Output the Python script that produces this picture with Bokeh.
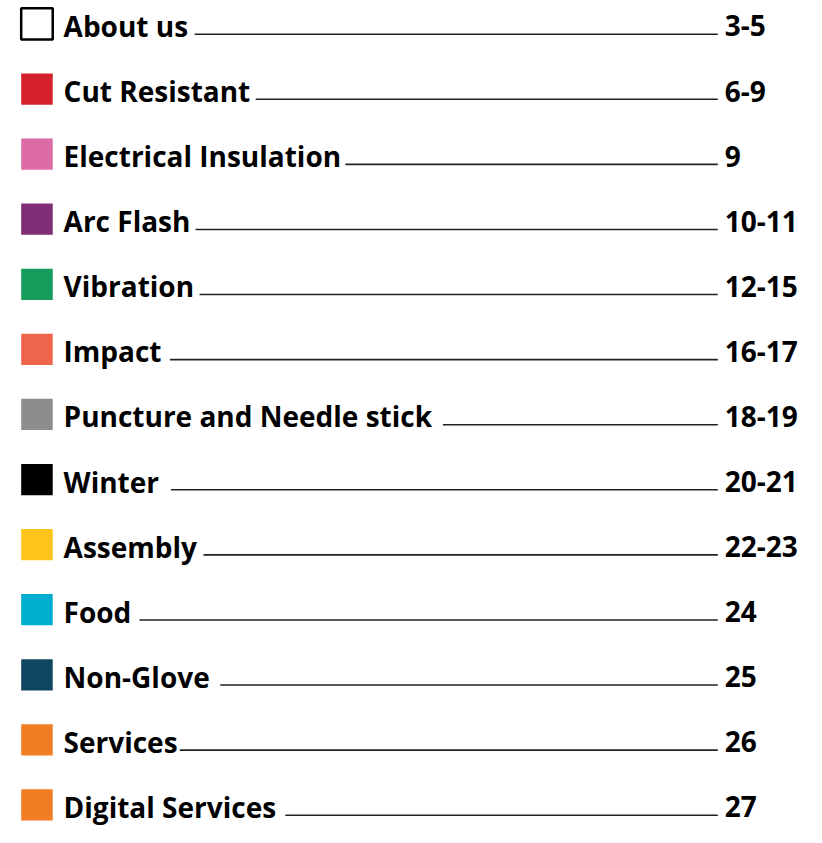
from bokeh.plotting import figure
from bokeh.models import Range1d, ColumnDataSource
from bokeh.core.properties import value
from bokeh.embed import file_html
from bokeh.resources import INLINE

labels = ["About us", "Cut Resistant", "Electrical Insulation", "Arc Flash", "Vibration",
          "Impact", "Puncture and Needle stick", "Winter", "Assembly", "Food",
          "Non-Glove", "Services", "Digital Services"]
pages = ["3-5", "6-9", "9", "10-11", "12-15", "16-17", "18-19", "20-21", "22-23",
         "24", "25", "26", "27"]
colors = ["#FFFFFF", "#D3202A", "#DC6BA6", "#7E2E74", "#159B5B", "#EF654B", "#8D8D8D",
          "#000000", "#FEC419", "#00AECF", "#104662", "#F17E24", "#F17E24"]
leader_start = [197, 259, 350, 198, 202, 172, 449, 173, 206, 141, 223, 182, 289]

rows = list(range(len(labels)))
ROW_PX = 66.58
CENTER0 = 24.0
REF_W, REF_H = 818, 846

W, H = 806, 827
p = figure(width=W, height=H, output_backend="svg", toolbar_location=None,
           x_range=Range1d(0, REF_W),
           y_range=Range1d((REF_H - CENTER0) / ROW_PX, (0 - CENTER0) / ROW_PX),
           min_border=0)
p.axis.visible = False
p.grid.visible = False
p.outline_line_color = None
p.background_fill_color = "white"
p.border_fill_color = "white"

src = ColumnDataSource(dict(
    y=rows, label=labels, page=pages, color=colors,
    x0=leader_start, x1=[728] * len(rows),
    ly=[r + 10.5 / ROW_PX for r in rows],
    lc=["black" if i == 0 else c for i, c in enumerate(colors)],
    lw=[2.5 if i == 0 else 0 for i in rows],
))

p.rect(x=37, y="y", width=32, height=32 / ROW_PX,
       fill_color="color", line_color="lc", line_width="lw", source=src)

p.segment(x0="x0", y0="ly", x1="x1", y1="ly", line_color="#222222", line_width=1.6, source=src)

font = value("Open Sans")
p.text(x=64, y="y", text="label", y_offset=2, text_baseline="alphabetic", text_align="left",
       text_font=font, text_font_style="bold", text_font_size="28px", text_color="black",
       source=src)
p.text(x=735, y="y", text="page", y_offset=2, text_baseline="alphabetic", text_align="left",
       text_font=font, text_font_style="bold", text_font_size="28px", text_color="black",
       source=src)

open("out.html", "w").write(file_html(p, INLINE))
